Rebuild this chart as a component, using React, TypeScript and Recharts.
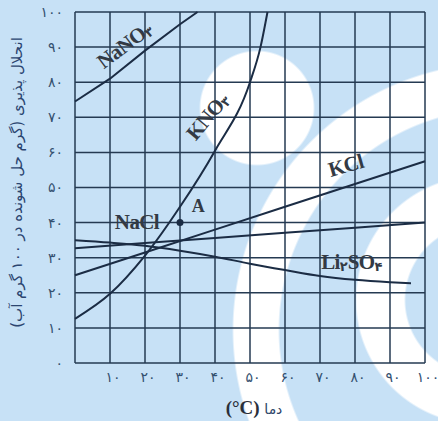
import { LineChart, Line, XAxis, YAxis, CartesianGrid, ReferenceDot } from 'recharts';

// temperatures (°C) and solubility (g per 100 g water)
const nano3Temps = [0, 10, 20, 30, 35];
const nano3Values = [74.5, 81, 89, 96.5, 100];

const kno3Temps = [0, 10, 20, 30, 40, 50, 53, 55];
const kno3Values = [12.6, 19.7, 30.6, 44.5, 60.5, 80, 90, 100];

const kclTemps = [0, 20, 40, 60, 80, 100];
const kclValues = [25, 31.5, 38, 44.5, 51, 57.5];

const naclTemps = [0, 20, 40, 60, 80, 100];
const naclValues = [32.7, 34.2, 35.6, 37.1, 38.5, 40];

const li2so4Temps = [0, 10, 20, 30, 40, 50, 60, 70, 80, 90, 96];
const li2so4Values = [35, 34.3, 33.4, 32, 30.3, 28.3, 26.5, 24.8, 23.7, 23, 22.7];

const pointA = { t: 30, v: 40 };

const xTicks = [0, 10, 20, 30, 40, 50, 60, 70, 80, 90, 100];
const yTicks = [0, 10, 20, 30, 40, 50, 60, 70, 80, 90, 100];

// label anchors in data coordinates
const curveLabels = [
  { key: 'nano3', t: 14.2, v: 90.6, angle: -37, main: 'NaNO', sub: '۳' },
  { key: 'kno3', t: 37.9, v: 70.3, angle: -50, main: 'KNO', sub: '۳' },
  { key: 'kcl', t: 77.4, v: 56.3, angle: -16, main: 'KCl', sub: '' },
  { key: 'nacl', t: 17.7, v: 40.2, angle: 0, main: 'NaCl', sub: '' },
  { key: 'a', t: 35.1, v: 44.6, angle: 0, main: 'A', sub: '' },
  { key: 'li2so4', t: 79.1, v: 28.8, angle: 0, main: 'Li', sub: '۲', tail: 'SO', tail2: '۴' },
];

const persian = (n: number) => String(n).replace(/\d/g, (d) => '۰۱۲۳۴۵۶۷۸۹'[Number(d)]);

const toPoints = (temps: number[], values: number[]) => temps.map((t, i) => ({ t, v: values[i] }));

const LINE = '#1b2c44';
const GRID = '#253a52';
const TICK = '#34506f';
const LABEL = '#333a44';

function CurveLabel({ cx, cy, item }: any) {
  return (
    <text
      x={cx}
      y={cy}
      textAnchor="middle"
      dominantBaseline="central"
      transform={`rotate(${item.angle}, ${cx}, ${cy})`}
      fontFamily="'Liberation Serif', 'Times New Roman', serif"
      fontWeight="bold"
      fontSize={item.key === 'a' ? 18 : 21}
      fill={LABEL}
      letterSpacing={-0.6}
    >
      <tspan>{item.main}</tspan>
      {item.sub && (
        <tspan dy={4} fontSize={13} fontFamily="'DejaVu Sans', sans-serif">
          {item.sub}
        </tspan>
      )}
      {item.tail && <tspan dy={-4}>{item.tail}</tspan>}
      {item.tail2 && (
        <tspan dy={4} fontSize={13} fontFamily="'DejaVu Sans', sans-serif">
          {item.tail2}
        </tspan>
      )}
    </text>
  );
}

export default function App() {
  return (
    <div
      style={{
        width: 438,
        height: 421,
        backgroundColor: '#c7e1f6',
        backgroundImage: [
          'radial-gradient(circle at 257px 108px, #ffffff 56px, rgba(255,255,255,0) 58px)',
          'radial-gradient(circle at 480px 300px, rgba(255,255,255,0) 74px, #ffffff 76px, #ffffff 123px, rgba(255,255,255,0) 125px)',
          'radial-gradient(circle at 500px 330px, rgba(255,255,255,0) 220px, #ffffff 222px, #ffffff 266px, rgba(255,255,255,0) 268px)',
        ].join(','),
      }}
    >
      <style>{'body{margin:0}'}</style>
      <LineChart width={438} height={421} margin={{ top: 12, right: 13, left: 0, bottom: 0 }}>
        <CartesianGrid stroke={GRID} strokeWidth={1.5} />
        <XAxis
          type="number"
          dataKey="t"
          domain={[0, 100]}
          ticks={xTicks}
          tickFormatter={(v) => (v === 0 ? '' : persian(v))}
          axisLine={false}
          tickLine={false}
          tickSize={0}
          tickMargin={9}
          height={58}
          dx={3}
          tick={{ fontSize: 14, fill: TICK, fontFamily: "'DejaVu Sans', sans-serif" }}
          label={{
            content: ({ viewBox }: any) => (
              <text
                x={viewBox.x + viewBox.width / 2 + 4}
                y={viewBox.y + 51}
                textAnchor="middle"
                fill="#2b4266"
              >
                <tspan fontFamily="'Liberation Serif', serif" fontWeight="bold" fontSize={19} fill="#2a2f3a">
                  {'(°C) '}
                </tspan>
                <tspan fontFamily="'DejaVu Sans', sans-serif" fontSize={14}>
                  دما
                </tspan>
              </text>
            ),
          }}
        />
        <YAxis
          type="number"
          domain={[0, 100]}
          ticks={yTicks}
          tickFormatter={(v) => persian(v)}
          axisLine={false}
          tickLine={false}
          tickSize={0}
          tickMargin={12}
          width={75}
          tick={{ fontSize: 14, fill: TICK, fontFamily: "'DejaVu Sans', sans-serif" }}
          label={{
            content: ({ viewBox }: any) => {
              const x = 17;
              const y = viewBox.y + viewBox.height / 2 - 5;
              return (
                <text
                  x={x}
                  y={y}
                  textAnchor="middle"
                  dominantBaseline="central"
                  transform={`rotate(-90, ${x}, ${y})`}
                  style={{ direction: 'rtl', unicodeBidi: 'embed' }}
                  fontFamily="'DejaVu Sans', sans-serif"
                  fontSize={15}
                  fill="#2b4570"
                >
                  انحلال پذیری (گرم حل شونده در ۱۰۰ گرم آب)
                </text>
              );
            },
          }}
        />
        <Line data={toPoints(nano3Temps, nano3Values)} dataKey="v" type="linear" stroke={LINE} strokeWidth={2} dot={false} isAnimationActive={false} />
        <Line data={toPoints(kno3Temps, kno3Values)} dataKey="v" type="monotone" stroke={LINE} strokeWidth={2} dot={false} isAnimationActive={false} />
        <Line data={toPoints(kclTemps, kclValues)} dataKey="v" type="linear" stroke={LINE} strokeWidth={2} dot={false} isAnimationActive={false} />
        <Line data={toPoints(naclTemps, naclValues)} dataKey="v" type="linear" stroke={LINE} strokeWidth={2} dot={false} isAnimationActive={false} />
        <Line data={toPoints(li2so4Temps, li2so4Values)} dataKey="v" type="monotone" stroke={LINE} strokeWidth={2} dot={false} isAnimationActive={false} />
        <ReferenceDot x={pointA.t} y={pointA.v} r={3.5} fill={LINE} stroke="none" />
        {curveLabels.map((item) => (
          <ReferenceDot
            key={item.key}
            x={item.t}
            y={item.v}
            r={0}
            shape={(p: any) => <CurveLabel cx={p.cx} cy={p.cy} item={item} />}
          />
        ))}
      </LineChart>
    </div>
  );
}
